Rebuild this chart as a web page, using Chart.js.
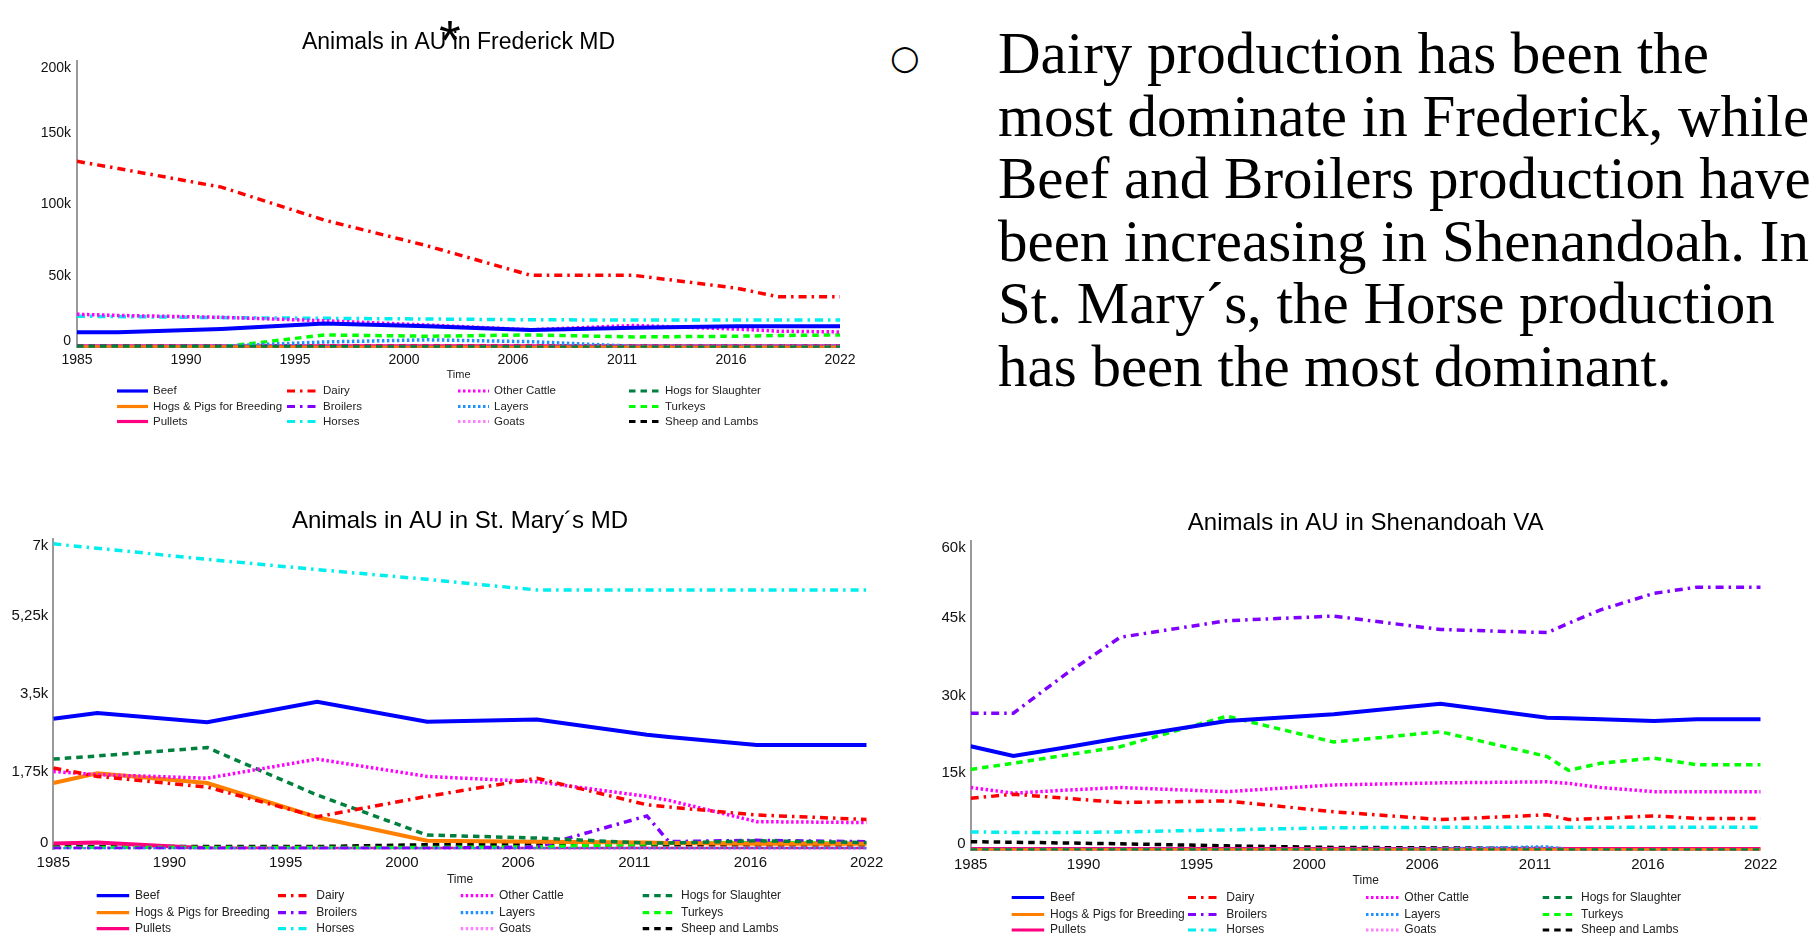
<!DOCTYPE html>
<html>
<head>
<meta charset="utf-8">
<script src="https://cdn.jsdelivr.net/npm/chart.js@4.4.1/dist/chart.umd.min.js"></script>
<style>
  html, body { margin: 0; padding: 0; background: #fff; }
  body { width: 1810px; height: 941px; position: relative; overflow: hidden; }
  canvas { position: absolute; }
  #bullet {
    position: absolute; left: 890px; top: 37px;
    font-family: "DejaVu Sans", sans-serif;
    font-size: 34px; line-height: 40px; color: #000;
  }
  #note {
    position: absolute; left: 998px; top: 22px;
    font-family: "Liberation Serif", "Times New Roman", serif;
    font-size: 59px; line-height: 62.5px; color: #000; white-space: nowrap;
  }
</style>
</head>
<body>
<canvas id="chartFrederick" width="870" height="440" style="left:0;top:0"></canvas>
<canvas id="chartStMarys" width="900" height="451" style="left:0;top:490px"></canvas>
<canvas id="chartShenandoah" width="910" height="451" style="left:900px;top:490px"></canvas>
<div id="bullet">○</div>
<div id="note">Dairy production has been the<br>most dominate in Frederick, while<br>Beef and Broilers production have<br>been increasing in Shenandoah. In<br>St. Mary´s, the Horse production<br>has been the most dominant.</div>

<script>
// series, in legend order (row by row)
const seriesNames = ['Beef', 'Dairy', 'Other Cattle', 'Hogs for Slaughter',
  'Hogs & Pigs for Breeding', 'Broilers', 'Layers', 'Turkeys',
  'Pullets', 'Horses', 'Goats', 'Sheep and Lambs'];

// x tick labels (evenly spaced over 1985-2022)
const xTickLabels = ['1985', '1990', '1995', '2000', '2006', '2011', '2016', '2022'];

// ---- Frederick MD ----
const yearsFrederick = [1985, 1987, 1992, 1997, 2002, 2007, 2012, 2017, 2019, 2022];
const fredBeef          = [10700, 10700, 13000, 16800, 15000, 12300, 14000, 15000, 15000, 15000];
const fredDairy         = [130000, 125000, 112000, 89000, 71000, 50500, 50500, 41500, 35500, 35500];
const fredOtherCattle   = [23300, 22500, 21200, 18800, 15800, 12500, 15500, 13000, 11500, 11000];
const fredHogsSlaughter = [1000, 1000, 800, 600, 500, 400, 400, 300, 300, 300];
const fredHogsBreeding  = [300, 300, 300, 200, 200, 200, 200, 200, 200, 200];
const fredBroilers      = [600, 600, 600, 600, 600, 600, 600, 600, 600, 600];
const fredLayers        = [800, 800, 1000, 4000, 5500, 4200, 1000, 1000, 1000, 1000];
const fredTurkeys       = [300, 300, 500, 8900, 8000, 8900, 7500, 8000, 8500, 8900];
const fredPullets       = [1000, 1000, 1000, 1000, 1000, 1000, 1000, 1000, 1000, 1000];
const fredHorses        = [22000, 21700, 21000, 20500, 20000, 19500, 19300, 19300, 19300, 19300];
const fredGoats         = [800, 800, 800, 800, 800, 800, 800, 800, 800, 800];
const fredSheep         = [1200, 1200, 1200, 1200, 1200, 1200, 1200, 1200, 1200, 1200];
const fredTicksY = [0, 50000, 100000, 150000, 200000];

// ---- St. Mary's MD ----
const yearsStMarys = [1985, 1987, 1992, 1997, 2002, 2007, 2012, 2013, 2017, 2022];
const smBeef          = [2940, 3070, 2860, 3320, 2870, 2920, 2580, 2530, 2350, 2350];
const smDairy         = [1830, 1640, 1400, 730, 1190, 1600, 1000, 950, 770, 670];
const smOtherCattle   = [1750, 1680, 1600, 2030, 1640, 1520, 1190, 1100, 620, 600];
const smHogsSlaughter = [2030, 2100, 2290, 1220, 320, 250, 140, 140, 190, 150];
const smHogsBreeding  = [1490, 1710, 1490, 720, 190, 170, 150, 140, 120, 120];
const smBroilers      = [20, 20, 20, 20, 20, 50, 750, 170, 200, 170];
const smLayers        = [10, 10, 10, 10, 10, 10, 10, 10, 10, 10];
const smTurkeys       = [40, 40, 40, 40, 40, 50, 120, 130, 150, 130];
const smPullets       = [130, 150, 20, 10, 10, 10, 10, 10, 10, 10];
const smHorses        = [6880, 6780, 6530, 6300, 6080, 5840, 5840, 5840, 5840, 5840];
const smGoats         = [10, 10, 10, 10, 10, 10, 10, 10, 10, 10];
const smSheep         = [60, 60, 60, 60, 100, 100, 100, 100, 100, 100];
const smTicksY = [0, 1750, 3500, 5250, 7000];

// ---- Shenandoah VA ----
const yearsShenandoah = [1985, 1987, 1989.5, 1992, 1997, 2002, 2007, 2012, 2013, 2014.5, 2017, 2019, 2022];
const shBeef          = [20200, 18300, 20000, 21800, 25100, 26400, 28400, 25700, 25600, 25400, 25100, 25400, 25400];
const shDairy         = [10100, 10900, 10100, 9300, 9600, 7500, 6000, 6900, 6000, 6200, 6700, 6200, 6200];
const shOtherCattle   = [12200, 11100, 11700, 12200, 11400, 12700, 13100, 13300, 13000, 12200, 11400, 11400, 11400];
const shHogsSlaughter = [100, 100, 100, 100, 100, 100, 100, 100, 100, 100, 100, 100, 100];
const shHogsBreeding  = [50, 50, 50, 50, 50, 50, 50, 50, 50, 50, 50, 50, 50];
const shBroilers      = [26600, 26600, 34300, 41300, 44500, 45400, 42800, 42200, 44000, 46600, 49800, 51000, 51000];
const shLayers        = [200, 200, 200, 200, 200, 200, 300, 700, 100, 100, 100, 100, 100];
const shTurkeys       = [15700, 16900, 18500, 20100, 26000, 21000, 23000, 18200, 15500, 16900, 17900, 16600, 16600];
const shPullets       = [300, 300, 300, 300, 300, 300, 300, 300, 300, 300, 300, 300, 300];
const shHorses        = [3600, 3500, 3500, 3600, 4000, 4400, 4500, 4500, 4500, 4500, 4500, 4500, 4500];
const shGoats         = [50, 50, 50, 50, 50, 50, 50, 50, 50, 50, 50, 50, 50];
const shSheep         = [1700, 1600, 1450, 1300, 900, 600, 500, 400, 350, 350, 300, 300, 300];
const shTicksY = [0, 15000, 30000, 45000, 60000];

const FONT = '"Liberation Sans", Arial, sans-serif';
const DASHDOT = [8, 5, 2.5, 5];
const DOT = [2.5, 2.5];
const DASH = [6.5, 5];

const looks = [
  { color: '#0000ff', dash: [], width: 4 },        // Beef
  { color: '#ff0000', dash: DASHDOT, width: 3.5 },  // Dairy
  { color: '#ff00ff', dash: DOT, width: 3.5 },      // Other Cattle
  { color: '#00803f', dash: DASH, width: 3.5 },     // Hogs for Slaughter
  { color: '#ff8000', dash: [], width: 4 },         // Hogs & Pigs
  { color: '#8000ff', dash: DASHDOT, width: 3.5 },  // Broilers
  { color: '#1e90ff', dash: DOT, width: 3.5 },      // Layers
  { color: '#00ff00', dash: DASH, width: 3.5 },     // Turkeys
  { color: '#ff0080', dash: [], width: 4 },         // Pullets
  { color: '#00eeee', dash: DASHDOT, width: 3.5 },  // Horses
  { color: '#ff80ff', dash: DOT, width: 3.5 },      // Goats
  { color: '#000000', dash: DASH, width: 3.5 }      // Sheep and Lambs
];

function fmtK(v) {
  if (v === 0) return '0';
  return String(v / 1000).replace('.', ',') + 'k';
}

// title, y labels, "Time" and the 4-column legend
const panelDecor = {
  id: 'panelDecor',
  afterDraw(chart, args, o) {
    const ctx = chart.ctx;
    const area = chart.chartArea;
    const ys = chart.scales.y;
    const cx = (area.left + area.right) / 2;
    ctx.save();
    ctx.fillStyle = '#000';
    ctx.font = o.titleSize + 'px ' + FONT;
    ctx.textAlign = 'center';
    ctx.textBaseline = 'middle';
    ctx.fillText(o.title, cx, o.titleY);
    if (o.star) {
      ctx.font = o.star.size + 'px ' + FONT;
      ctx.textBaseline = 'alphabetic';
      ctx.fillText('*', o.star.x, o.star.y);
      ctx.textBaseline = 'middle';
    }
    // y tick labels (edge labels pulled inward)
    ctx.font = o.tickSize + 'px ' + FONT;
    ctx.textAlign = 'right';
    ctx.fillStyle = '#111';
    o.ticksY.forEach((v, i) => {
      let py = ys.getPixelForValue(v);
      if (i === 0) py -= 6.5;
      if (i === o.ticksY.length - 1) py += 7;
      ctx.fillText(fmtK(v), area.left - o.tickPad, py);
    });
    // axis title
    ctx.textAlign = 'center';
    ctx.font = o.timeSize + 'px ' + FONT;
    ctx.fillStyle = '#222';
    ctx.fillText('Time', cx, o.timeY);
    // legend
    ctx.font = o.legendSize + 'px ' + FONT;
    chart.data.datasets.forEach((ds, i) => {
      const lx = o.legendCols[i % 4];
      const ly = o.legendRows[Math.floor(i / 4)];
      ctx.strokeStyle = ds.borderColor;
      ctx.lineWidth = 3.2;
      ctx.setLineDash(ds.borderDash);
      ctx.beginPath();
      ctx.moveTo(lx, ly);
      ctx.lineTo(lx + o.legendLine, ly);
      ctx.stroke();
      ctx.setLineDash([]);
      ctx.fillStyle = '#222';
      ctx.textAlign = 'left';
      ctx.fillText(ds.label, lx + o.legendText, ly);
    });
    ctx.restore();
  }
};

function makeChart(id, years, seriesValues, p) {
  const datasets = seriesNames.map((name, i) => ({
    label: name,
    data: years.map((yr, k) => ({ x: yr, y: seriesValues[i][k] })),
    borderColor: looks[i].color,
    backgroundColor: looks[i].color,
    borderDash: looks[i].dash,
    borderWidth: looks[i].width,
    pointRadius: 0,
    tension: 0,
    fill: false
  }));

  return new Chart(document.getElementById(id), {
    type: 'line',
    data: { datasets: datasets },
    options: {
      responsive: false,
      animation: false,
      events: [],
      layout: { padding: { left: 0, right: p.padRight, top: p.padTop, bottom: p.padBottom } },
      scales: {
        x: {
          type: 'linear',
          min: 1985,
          max: 2022,
          afterBuildTicks: s => {
            s.ticks = xTickLabels.map((t, i) => ({ value: 1985 + i * 37 / 7 }));
          },
          afterFit: s => { s.height = 30; },
          grid: { display: false, drawTicks: false },
          border: { display: false },
          ticks: {
            autoSkip: false,
            maxRotation: 0,
            padding: p.xPad,
            color: '#111',
            font: { family: FONT, size: p.tickSize },
            callback: (v, i) => xTickLabels[i]
          }
        },
        y: {
          min: 0,
          max: p.ticksY[p.ticksY.length - 1],
          afterBuildTicks: s => { s.ticks = p.ticksY.map(v => ({ value: v })); },
          afterFit: s => { s.width = p.yWidth; },
          grid: { display: false, drawTicks: false },
          border: { display: true, color: '#9a9a9a', width: 2 },
          ticks: { color: 'rgba(0,0,0,0)', font: { family: FONT, size: p.tickSize } }
        }
      },
      plugins: {
        legend: { display: false },
        tooltip: { enabled: false },
        panelDecor: {
          title: p.title, titleY: p.titleY, titleSize: p.titleSize, star: p.star,
          ticksY: p.ticksY, tickSize: p.tickSize, tickPad: p.tickPad,
          timeY: p.timeY, timeSize: p.timeSize,
          legendCols: p.legendCols, legendRows: p.legendRows,
          legendLine: p.legendLine, legendText: p.legendText, legendSize: p.legendSize
        }
      }
    },
    plugins: [panelDecor]
  });
}

makeChart('chartFrederick', yearsFrederick,
  [fredBeef, fredDairy, fredOtherCattle, fredHogsSlaughter, fredHogsBreeding, fredBroilers,
   fredLayers, fredTurkeys, fredPullets, fredHorses, fredGoats, fredSheep], {
  title: 'Animals in AU in Frederick MD', titleY: 43, titleSize: 23,
  star: { x: 450, y: 59, size: 56 },
  ticksY: fredTicksY, tickSize: 14, tickPad: 6, xPad: 4,
  yWidth: 77, padRight: 30, padTop: 61, padBottom: 62.3,
  timeY: 375, timeSize: 11,
  legendCols: [117, 287, 458, 629], legendRows: [391, 406.5, 421.5],
  legendLine: 31, legendText: 36, legendSize: 11.5
});

makeChart('chartStMarys', yearsStMarys,
  [smBeef, smDairy, smOtherCattle, smHogsSlaughter, smHogsBreeding, smBroilers,
   smLayers, smTurkeys, smPullets, smHorses, smGoats, smSheep], {
  title: 'Animals in AU in St. Mary´s MD', titleY: 31.7, titleSize: 24, star: null,
  ticksY: smTicksY, tickSize: 15, tickPad: 5, xPad: 5,
  yWidth: 53.3, padRight: 33.3, padTop: 48.5, padBottom: 61.8,
  timeY: 390, timeSize: 12,
  legendCols: [96.7, 278, 460.7, 642.7], legendRows: [405.7, 422.7, 438.7],
  legendLine: 32.5, legendText: 38.3, legendSize: 12
});

makeChart('chartShenandoah', yearsShenandoah,
  [shBeef, shDairy, shOtherCattle, shHogsSlaughter, shHogsBreeding, shBroilers,
   shLayers, shTurkeys, shPullets, shHorses, shGoats, shSheep], {
  title: 'Animals in AU in Shenandoah VA', titleY: 33.3, titleSize: 24, star: null,
  ticksY: shTicksY, tickSize: 15, tickPad: 5, xPad: 5,
  yWidth: 70.7, padRight: 49.3, padTop: 50.7, padBottom: 60.5,
  timeY: 390.7, timeSize: 12,
  legendCols: [111.7, 288, 466, 642.7], legendRows: [407.5, 424.5, 440],
  legendLine: 32.5, legendText: 38.3, legendSize: 12
});
</script>
</body>
</html>
